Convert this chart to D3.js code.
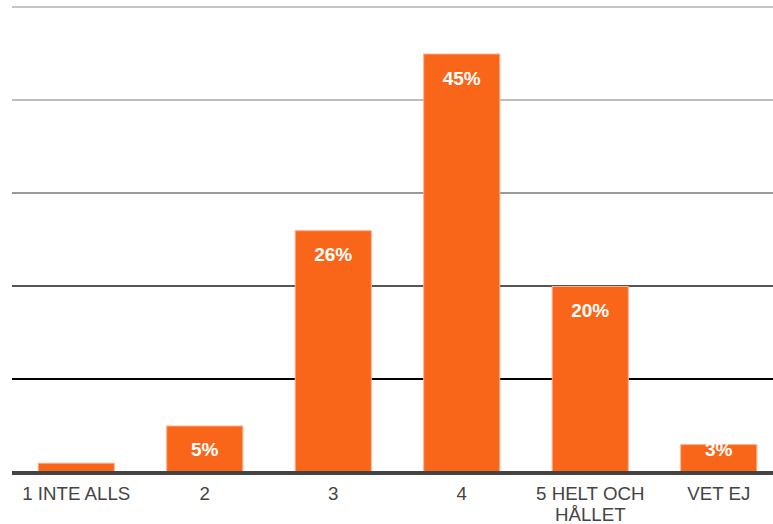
<!DOCTYPE html>
<html>
<head>
<meta charset="utf-8">
<script src="https://cdn.jsdelivr.net/npm/d3@7"></script>
<style>
  body { margin: 0; background: #fff; }
  svg { display: block; font-family: "Liberation Sans", Arial, sans-serif; }
</style>
</head>
<body>
<svg id="chart" width="773" height="524"></svg>
<script>
const categories = ["1 INTE ALLS", "2", "3", "4", "5 HELT OCH\nHÅLLET", "VET EJ"];
const values = [1, 5, 26, 45, 20, 3];
const valueLabels = ["", "5%", "26%", "45%", "20%", "3%"];
const gridTicks = [10, 20, 30, 40, 50];
const gridColors = ["#000000", "#555555", "#9a9a9a", "#bdbdbd", "#c4c4c4"];

const svg = d3.select("#chart");
const plotLeft = 12, plotRight = 783, plotTop = 7, plotBottom = 472;

const x = d3.scaleBand().domain(categories).range([plotLeft, plotRight])
  .paddingInner(0.4).paddingOuter(0.2);
const y = d3.scaleLinear().domain([0, 50]).range([plotBottom, plotTop]);

// gridlines
svg.append("g").selectAll("line")
  .data(gridTicks)
  .join("line")
  .attr("x1", plotLeft)
  .attr("x2", 773)
  .attr("y1", d => y(d))
  .attr("y2", d => y(d))
  .attr("stroke", (d, i) => gridColors[i])
  .attr("stroke-width", 2);

// bars
svg.append("g").selectAll("rect")
  .data(values)
  .join("rect")
  .attr("x", (d, i) => x(categories[i]) + 0.5)
  .attr("y", d => y(d) + 0.5)
  .attr("width", x.bandwidth() - 1)
  .attr("height", d => plotBottom - y(d) - 0.5)
  .attr("fill", "#fa6619")
  .attr("stroke", "#fbb08a")
  .attr("stroke-width", 1);

// baseline
svg.append("line")
  .attr("x1", plotLeft).attr("x2", 773)
  .attr("y1", plotBottom + 1).attr("y2", plotBottom + 1)
  .attr("stroke", "#444444")
  .attr("stroke-width", 4);

// value labels
svg.append("g").selectAll("text")
  .data(values)
  .join("text")
  .attr("x", (d, i) => x(categories[i]) + x.bandwidth() / 2)
  .attr("y", d => Math.min(y(d) + 31, 456))
  .attr("text-anchor", "middle")
  .attr("fill", "#ffffff")
  .attr("font-weight", "bold")
  .attr("font-size", "19px")
  .text((d, i) => valueLabels[i]);

// category labels
const cat = svg.append("g").selectAll("text")
  .data(categories)
  .join("text")
  .attr("x", d => x(d) + x.bandwidth() / 2)
  .attr("y", 500)
  .attr("text-anchor", "middle")
  .attr("fill", "#444444")
  .attr("font-size", "18.7px");
cat.selectAll("tspan")
  .data(d => d.split("\n"))
  .join("tspan")
  .attr("x", function () { return d3.select(this.parentNode).attr("x"); })
  .attr("dy", (d, i) => i === 0 ? 0 : 21)
  .text(d => d);
</script>
</body>
</html>
